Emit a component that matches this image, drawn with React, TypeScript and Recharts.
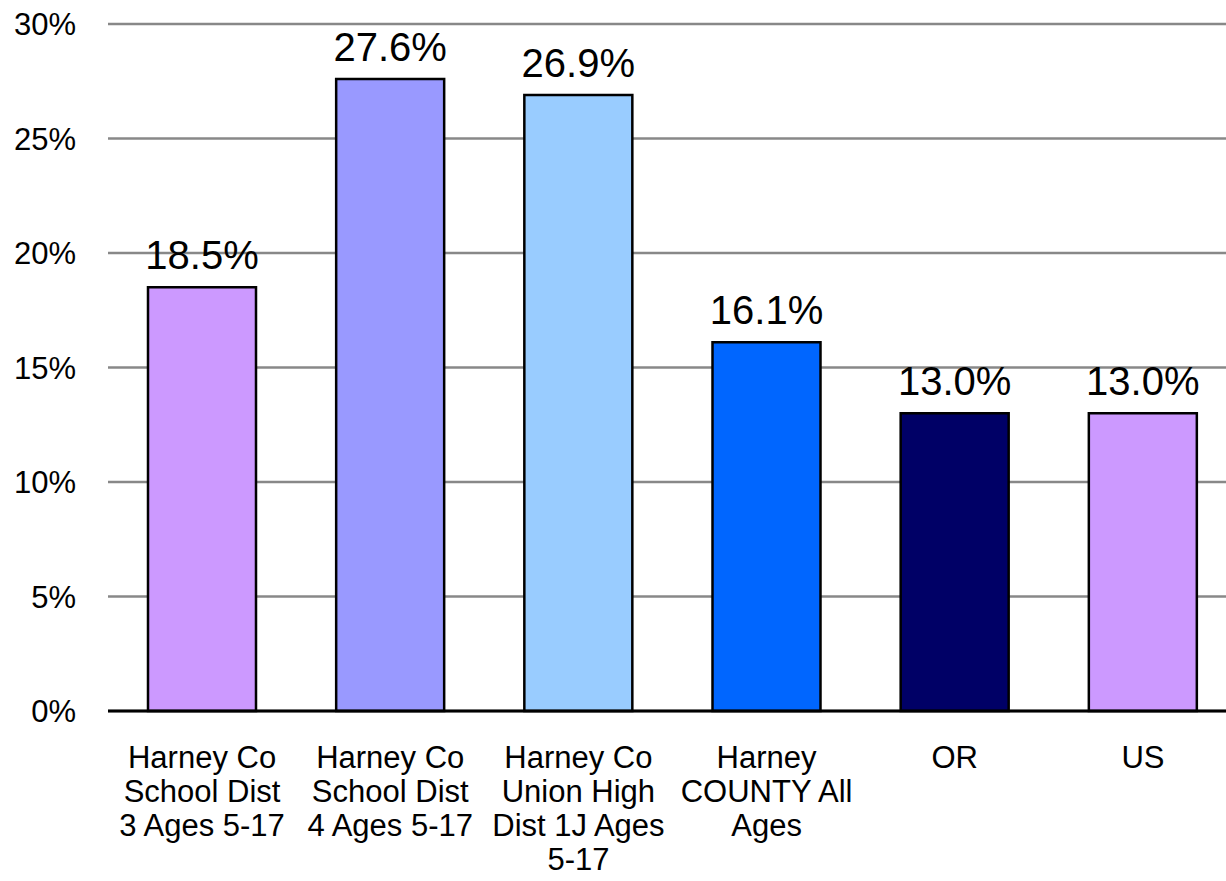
import { Bar, BarChart, CartesianGrid, Cell, LabelList, XAxis, YAxis } from 'recharts';

const categories = [
  'Harney Co School Dist 3 Ages 5-17',
  'Harney Co School Dist 4 Ages 5-17',
  'Harney Co Union High Dist 1J Ages 5-17',
  'Harney COUNTY All Ages',
  'OR',
  'US',
];
const categoryLines = [
  ['Harney Co', 'School Dist', '3 Ages 5-17'],
  ['Harney Co', 'School Dist', '4 Ages 5-17'],
  ['Harney Co', 'Union High', 'Dist 1J Ages', '5-17'],
  ['Harney', 'COUNTY All', 'Ages'],
  ['OR'],
  ['US'],
];
const values = [18.5, 27.6, 26.9, 16.1, 13.0, 13.0];
const barColors = ['#CC99FF', '#9999FF', '#99CCFF', '#0066FF', '#000066', '#CC99FF'];
const yTicks = [0, 5, 10, 15, 20, 25, 30];

const data = categories.map((name, i) => ({ name, value: values[i] }));

const font = '"Liberation Sans", Arial, sans-serif';

function CategoryTick({ x, y, index }: any) {
  const lines = categoryLines[index] || [];
  return (
    <text x={x} y={y + 57} textAnchor="middle" fontFamily={font} fontSize={31} fill="#000">
      {lines.map((line, i) => (
        <tspan key={i} x={x} dy={i === 0 ? 0 : 34}>
          {line}
        </tspan>
      ))}
    </text>
  );
}

function ValueLabel({ x, y, width, value }: any) {
  return (
    <text x={x + width / 2} y={y - 18} textAnchor="middle" fontFamily={font} fontSize={40} fill="#000">
      {Number(value).toFixed(1)}%
    </text>
  );
}

export default function App() {
  return (
    <div style={{ position: 'absolute', left: 0, top: 0, width: 1226, height: 881, overflow: 'hidden', background: '#fff' }}>
      <BarChart width={1240} height={881} data={data} margin={{ top: 24, right: 3, left: 0, bottom: 0 }} barSize={108}>
        <CartesianGrid vertical={false} stroke="#888888" strokeWidth={2.5} />
        <XAxis
          dataKey="name"
          interval={0}
          tickLine={false}
          tickSize={0}
          tickMargin={0}
          axisLine={{ stroke: '#000', strokeWidth: 3 }}
          tick={<CategoryTick />}
          height={170}
        />
        <YAxis
          width={108}
          domain={[0, 30]}
          ticks={yTicks}
          axisLine={false}
          tickLine={false}
          tickSize={0}
          tickMargin={32}
          tickFormatter={(v) => `${v}%`}
          tick={{ fontFamily: font, fontSize: 31, fill: '#000' }}
        />
        <Bar dataKey="value" stroke="#000" strokeWidth={2.5} isAnimationActive={false}>
          {data.map((d, i) => (
            <Cell key={d.name} fill={barColors[i]} />
          ))}
          <LabelList dataKey="value" content={<ValueLabel />} />
        </Bar>
      </BarChart>
    </div>
  );
}
